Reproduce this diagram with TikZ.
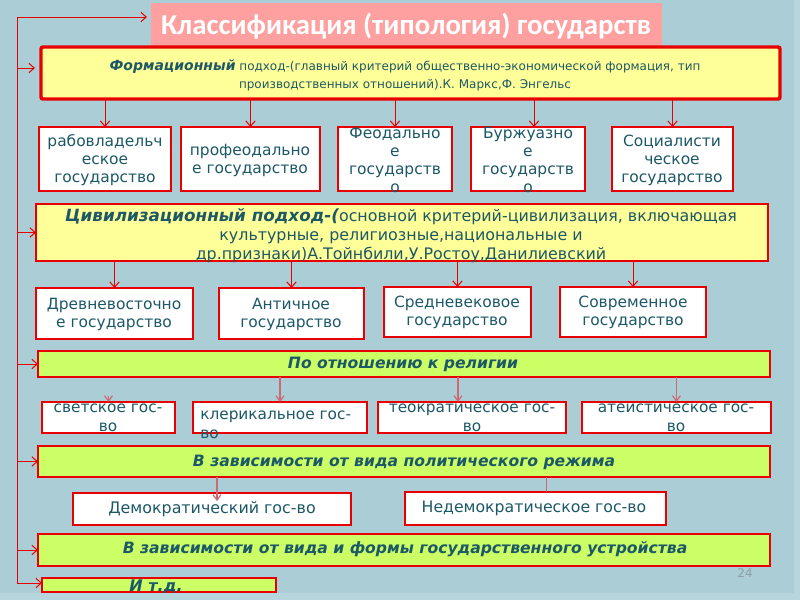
\documentclass[tikz,border=0pt]{standalone}
\usepackage{fontspec}
\setmainfont{DejaVu Sans}
\newfontfamily\titlefont{Carlito}
\usetikzlibrary{arrows.meta,calc}
\definecolor{bg}{RGB}{171,205,213}
\definecolor{bgstrip}{RGB}{182,213,220}
\definecolor{pinkt}{RGB}{255,160,160}
\definecolor{yfill}{RGB}{255,255,153}
\definecolor{lfill}{RGB}{204,255,102}
\definecolor{bred}{RGB}{232,0,0}
\definecolor{pred}{RGB}{205,105,115}
\definecolor{tealt}{RGB}{28,88,102}
\definecolor{numg}{RGB}{140,160,168}
\newcommand\bx[6]{\node[#6, minimum width={(#4-#2)*0.75pt}, minimum height={(#5-#3)*0.75pt}] (#1) at ({(#2+#4)/2},{(#3+#5)/2}) {};}
\tikzset{
  base/.style={inner sep=0pt, outer sep=0pt, rectangle},
  pinkbox/.style={base, fill=pinkt},
  ybox/.style={base, fill=yfill, draw=bred, line width=2.6pt, rounded corners=1.5pt},
  ybox3/.style={base, fill=yfill, draw=bred, line width=2.2pt},
  lbox/.style={base, fill=lfill, draw=bred, line width=2.2pt},
  wbox/.style={base, fill=white, draw=bred, line width=2.2pt},
  txt/.style={inner sep=0pt, text=tealt, align=center, font=\fontsize{11.6pt}{13.5pt}\selectfont},
  stxt/.style={inner sep=0pt, text=tealt, align=center, font=\fontsize{11.5pt}{14.2pt}\selectfont},
  htxt/.style={inner sep=0pt, text=tealt, font=\fontsize{11.7pt}{13pt}\selectfont\bfseries\itshape},
  rline/.style={draw=bred, line width=0.75pt},
  arr/.style={draw=bred, line width=0.75pt, -{Straight Barb[length=4pt,width=7pt]}},
  parr/.style={draw=pred, line width=0.9pt, -{Straight Barb[length=4pt,width=6pt]}},
  pline/.style={draw=pred, line width=0.9pt}
}
\begin{document}
\begin{tikzpicture}[x=0.75pt,y=-0.75pt]
\path[fill=bg] (0,0) rectangle (800,600);
\useasboundingbox (0,0) rectangle (800,600);

% boxes
\bx{title}{151}{3}{662}{47}{pinkbox}
\bx{fm}{41}{47}{780}{99}{ybox}
\bx{f1}{39}{127}{171}{191}{wbox}
\bx{f2}{181}{127}{320}{191}{wbox}
\bx{f3}{338}{127}{452}{191}{wbox}
\bx{f4}{471}{127}{585}{191}{wbox}
\bx{f5}{612}{127}{733}{191}{wbox}
\bx{civ}{36}{204}{768}{261}{ybox3}
\bx{c1}{36}{288}{193}{339}{wbox}
\bx{c2}{219}{288}{364}{339}{wbox}
\bx{c3}{384}{287}{531}{337}{wbox}
\bx{c4}{560}{287}{706}{337}{wbox}
\bx{rel}{38}{351}{770}{377}{lbox}
\bx{s1}{42}{402}{175}{433}{wbox}
\bx{s2}{193}{402}{367}{433}{wbox}
\bx{s3}{378}{402}{566}{433}{wbox}
\bx{s4}{582}{402}{771}{433}{wbox}
\bx{pol}{38}{446}{770}{477}{lbox}
\bx{d1}{73}{493}{351}{525}{wbox}
\bx{d2}{405}{492}{666}{525}{wbox}
\bx{frm}{38}{534}{770}{566}{lbox}
\bx{etc}{42}{578}{276}{592}{lbox}

% texts
\node[inner sep=0pt, text=white, font=\titlefont\fontsize{21.6pt}{24pt}\selectfont\bfseries] (tt) at (406,26) {Классификация (типология) государств};
\node[txt, font=\fontsize{9pt}{12.7pt}\selectfont] (tfm) at (405,75.5) {{\fontsize{10.5pt}{12.7pt}\selectfont\bfseries\itshape Формационный} подход-(главный критерий общественно-экономической формация, тип\\[0.8pt]производственных отношений).К. Маркс,Ф. Энгельс};
\node[txt] (tf1) at (105,160) {рабовладельч\\еское\\государство};
\node[txt] (tf2) at (250,160) {профеодально\\е государство};
\node[txt] (tf3) at (395,160) {Феодально\\е\\государств\\о};
\node[txt] (tf4) at (528,160) {Буржуазно\\е\\государств\\о};
\node[txt] (tf5) at (672,160) {Социалисти\\ческое\\государство};
\node[txt, font=\fontsize{11.9pt}{14.4pt}\selectfont] (tciv) at (401,235.5) {{\fontsize{12.6pt}{14.4pt}\selectfont\bfseries\itshape Цивилизационный подход-(}основной критерий-цивилизация, включающая\\культурные, религиозные,национальные и\\др.признаки)А.Тойнбили,У.Ростоу,Данилиевский};
\node[txt] (tc1) at (114,314) {Древневосточно\\е государство};
\node[txt] (tc2) at (291,314) {Античное\\государство};
\node[txt] (tc3) at (457,312) {Средневековое\\государство};
\node[txt] (tc4) at (633,312) {Современное\\государство};
\node[htxt] (trel) at (403,364) {По отношению к религии};
\node[stxt] (ts1) at (108,418) {светское гос-\\во};
\node[stxt, align=left, anchor=west] (ts2) at (200,425) {клерикальное гос-\\во};
\node[stxt] (ts3) at (472,418) {теократическое гос-\\во};
\node[stxt] (ts4) at (676,418) {атеистическое гос-\\во};
\node[htxt] (tpol) at (404,462) {В зависимости от вида политического режима};
\node[txt, font=\fontsize{11.9pt}{13pt}\selectfont] (td1) at (212,509) {Демократический гос-во};
\node[txt, font=\fontsize{11.8pt}{13pt}\selectfont] (td2) at (534,508) {Недемократическое гос-во};
\node[htxt] (tfrm) at (405,549) {В зависимости от вида и формы государственного устройства};
\node[htxt, font=\fontsize{12pt}{14pt}\selectfont\bfseries\itshape] (tetc) at (156,587) {И т.д.};
\node[inner sep=0pt, text=numg, font=\fontsize{9pt}{11pt}\selectfont] (pnum) at (745,573) {24};

% connectors: formation
\foreach \b in {f1,f2,f3,f5} \draw[arr] (fm.south -| \b.north) -- (\b.north);
\draw[arr] ([xshift=4.5pt]fm.south -| f4.north) -- ([xshift=4.5pt]f4.north);
% civilization
\foreach \b in {c1,c2,c3,c4} \draw[arr] (civ.south -| \b.north) -- (\b.north);
% religion
\draw[parr] ([yshift=4.5pt]s1.north) -- (s1.north);
\draw[parr] (rel.south -| s2.north) -- (s2.north);
\draw[parr] ([xshift=-10.5pt]rel.south -| s3.north) -- ([xshift=-10.5pt]s3.north);
\draw[parr] (rel.south -| s4.north) -- (s4.north);
% political
\draw[parr] ([xshift=3.75pt]pol.south -| d1.north) -- ([xshift=3.75pt,yshift=-6pt]d1.north);
\draw[pline] ([xshift=8.5pt]pol.south -| d2.north) -- ([xshift=8.5pt]d2.north);

% left spine
\coordinate (L0) at (17,17);
\coordinate (Lend) at (17,583);
\draw[rline] (Lend) -- (L0);
\draw[arr] (L0) -- ([xshift=-3pt]L0 -| title.west);
\draw[arr] ([yshift=3.75pt]L0 |- fm.west) -- ([xshift=-4.5pt,yshift=3.75pt]fm.west);
\foreach \b in {civ,rel,pol,frm} \draw[arr] (L0 |- \b.west) -- (\b.west);
\draw[arr] (Lend) -- (Lend -| etc.west);

% bottom and right strips
\path[fill=bgstrip] (0,593) rectangle (800,600);
\path[fill=bgstrip] (794,0) rectangle (800,593);
\end{tikzpicture}
\end{document}
